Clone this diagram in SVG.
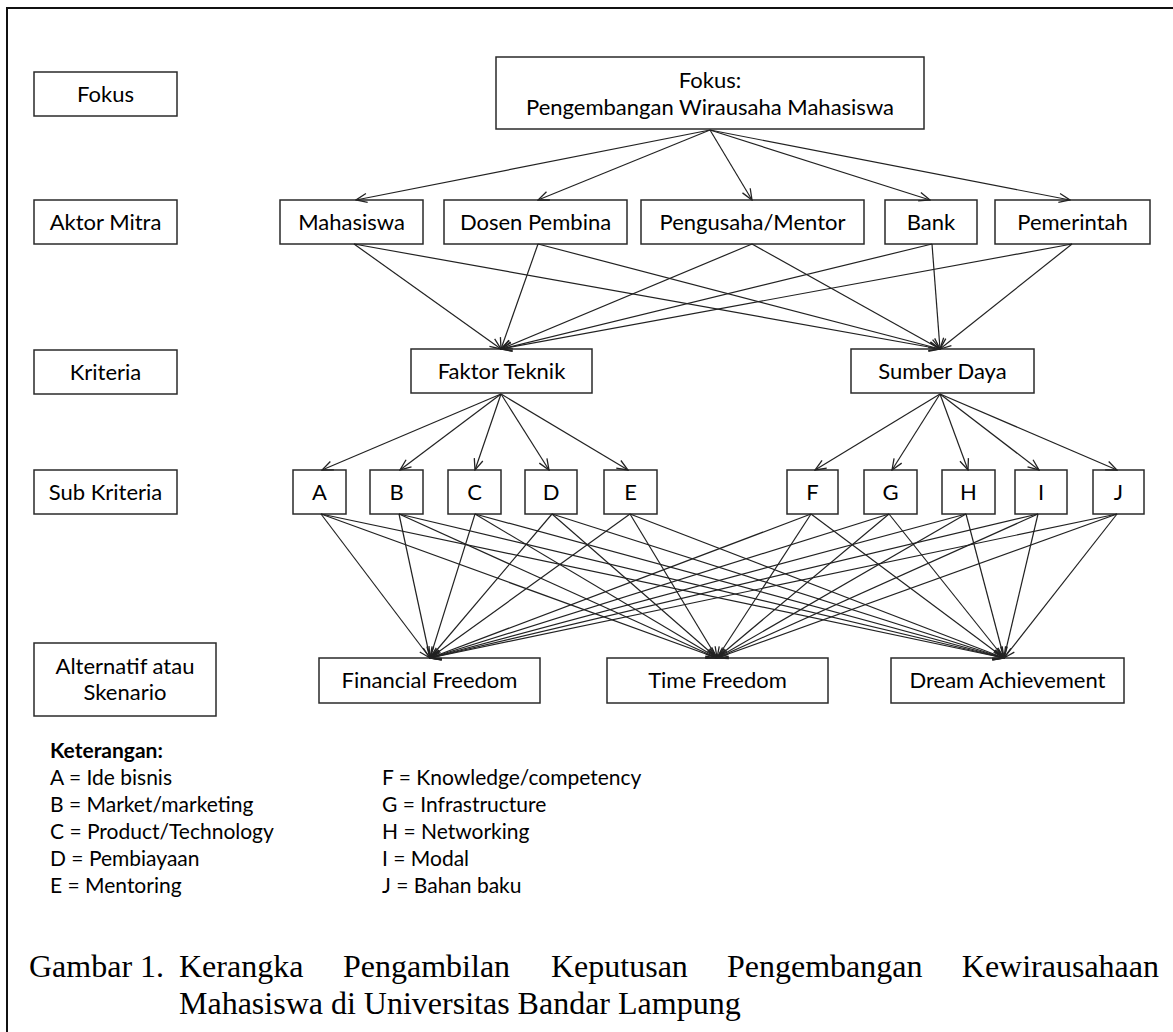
<svg xmlns="http://www.w3.org/2000/svg" width="1173" height="1032" viewBox="0 0 1173 1032">
<style>
.bx{fill:#fff;stroke:#2a2a2a;stroke-width:1.5}
.t{font-family:Lato,"Open Sans",sans-serif;font-size:22px;fill:#000;text-anchor:middle}
.lg{font-family:Lato,"Open Sans",sans-serif;font-size:21px;fill:#000}
.cap{font-family:"Liberation Serif","Times New Roman",serif;font-size:32px;fill:#000}
.c line{stroke:#222;stroke-width:1.2;marker-end:url(#ah)}
</style>
<defs>
<marker id="ah" viewBox="-12 -6 13 12" refX="0" refY="0" markerWidth="13" markerHeight="12" markerUnits="userSpaceOnUse" orient="auto">
<path d="M-11,-4.5 L0,0 L-11,4.5" fill="none" stroke="#222" stroke-width="1.3"/>
</marker>
</defs>
<rect x="0" y="0" width="1173" height="1032" fill="#fff"/>
<path d="M7,1032 V8 H1173" fill="none" stroke="#111" stroke-width="2"/>

<g id="lbl-fokus"><rect class="bx" x="34" y="72" width="143" height="44"/><text class="t" x="105.5" y="101.5">Fokus</text></g>
<g id="lbl-aktor"><rect class="bx" x="34" y="200" width="143" height="44"/><text class="t" x="105.5" y="229.5">Aktor Mitra</text></g>
<g id="lbl-kriteria"><rect class="bx" x="34" y="350" width="143" height="44"/><text class="t" x="105.5" y="379.5">Kriteria</text></g>
<g id="lbl-sub"><rect class="bx" x="34" y="470" width="143" height="44"/><text class="t" x="105.5" y="499.5">Sub Kriteria</text></g>
<g id="lbl-alt"><rect class="bx" x="34" y="643" width="182" height="73"/><text class="t" x="125" y="674">Alternatif atau</text><text class="t" x="125" y="700">Skenario</text></g>

<g id="focus"><rect class="bx" x="496" y="57" width="428" height="72"/><text class="t" x="710" y="88">Fokus:</text><text class="t" x="710" y="115">Pengembangan Wirausaha Mahasiswa</text></g>

<g id="a-mahasiswa"><rect class="bx" x="280" y="200" width="143" height="44"/><text class="t" x="351.5" y="229.5">Mahasiswa</text></g>
<g id="a-dosen"><rect class="bx" x="444" y="200" width="183" height="44"/><text class="t" x="535.5" y="229.5">Dosen Pembina</text></g>
<g id="a-pengusaha"><rect class="bx" x="641" y="200" width="223" height="44"/><text class="t" x="752.5" y="229.5">Pengusaha/Mentor</text></g>
<g id="a-bank"><rect class="bx" x="885" y="200" width="92" height="44"/><text class="t" x="931" y="229.5">Bank</text></g>
<g id="a-pemerintah"><rect class="bx" x="995" y="200" width="155" height="44"/><text class="t" x="1072.5" y="229.5">Pemerintah</text></g>

<g id="k-teknik"><rect class="bx" x="411" y="349" width="181" height="44"/><text class="t" x="501.5" y="378.5">Faktor Teknik</text></g>
<g id="k-sumber"><rect class="bx" x="851" y="349" width="183" height="44"/><text class="t" x="942.5" y="378.5">Sumber Daya</text></g>

<g id="s-a"><rect class="bx" x="293" y="470" width="53" height="44"/><text class="t" x="319.5" y="499.5">A</text></g>
<g id="s-b"><rect class="bx" x="370" y="470" width="53" height="44"/><text class="t" x="396.5" y="499.5">B</text></g>
<g id="s-c"><rect class="bx" x="448" y="470" width="53" height="44"/><text class="t" x="474.5" y="499.5">C</text></g>
<g id="s-d"><rect class="bx" x="525" y="470" width="52" height="44"/><text class="t" x="551" y="499.5">D</text></g>
<g id="s-e"><rect class="bx" x="604" y="470" width="53" height="44"/><text class="t" x="630.5" y="499.5">E</text></g>
<g id="s-f"><rect class="bx" x="787" y="470" width="51" height="44"/><text class="t" x="812.5" y="499.5">F</text></g>
<g id="s-g"><rect class="bx" x="864" y="470" width="53" height="44"/><text class="t" x="890.5" y="499.5">G</text></g>
<g id="s-h"><rect class="bx" x="942" y="470" width="53" height="44"/><text class="t" x="968.5" y="499.5">H</text></g>
<g id="s-i"><rect class="bx" x="1015" y="470" width="52" height="44"/><text class="t" x="1041" y="499.5">I</text></g>
<g id="s-j"><rect class="bx" x="1093" y="470" width="51" height="44"/><text class="t" x="1118.5" y="499.5">J</text></g>

<g id="alt-ff"><rect class="bx" x="319" y="658" width="221" height="45"/><text class="t" x="429.5" y="688">Financial Freedom</text></g>
<g id="alt-tf"><rect class="bx" x="607" y="658" width="221" height="45"/><text class="t" x="717.5" y="688">Time Freedom</text></g>
<g id="alt-da"><rect class="bx" x="891" y="658" width="233" height="45"/><text class="t" x="1007.5" y="688">Dream Achievement</text></g>

<g class="c" id="connectors">
<line x1="710" y1="130" x2="356" y2="200"/>
<line x1="710" y1="130" x2="538" y2="200"/>
<line x1="710" y1="130" x2="752" y2="200"/>
<line x1="710" y1="130" x2="930" y2="200"/>
<line x1="710" y1="130" x2="1070" y2="200"/>

<line x1="354" y1="244" x2="501" y2="349"/>
<line x1="354" y1="244" x2="940" y2="349"/>
<line x1="538" y1="244" x2="501" y2="349"/>
<line x1="538" y1="244" x2="940" y2="349"/>
<line x1="752" y1="244" x2="501" y2="349"/>
<line x1="752" y1="244" x2="940" y2="349"/>
<line x1="932" y1="244" x2="501" y2="349"/>
<line x1="932" y1="244" x2="940" y2="349"/>
<line x1="1072" y1="244" x2="501" y2="349"/>
<line x1="1072" y1="244" x2="940" y2="349"/>

<line x1="501" y1="394" x2="322" y2="470"/>
<line x1="501" y1="394" x2="400" y2="470"/>
<line x1="501" y1="394" x2="475" y2="470"/>
<line x1="501" y1="394" x2="549" y2="470"/>
<line x1="501" y1="394" x2="628" y2="470"/>
<line x1="940" y1="394" x2="815" y2="470"/>
<line x1="940" y1="394" x2="892" y2="470"/>
<line x1="940" y1="394" x2="968" y2="470"/>
<line x1="940" y1="394" x2="1039" y2="470"/>
<line x1="940" y1="394" x2="1117" y2="470"/>

<line x1="321" y1="514" x2="430" y2="658"/><line x1="321" y1="514" x2="717" y2="658"/><line x1="321" y1="514" x2="1004" y2="658"/>
<line x1="399" y1="514" x2="430" y2="658"/><line x1="399" y1="514" x2="717" y2="658"/><line x1="399" y1="514" x2="1004" y2="658"/>
<line x1="475" y1="514" x2="430" y2="658"/><line x1="475" y1="514" x2="717" y2="658"/><line x1="475" y1="514" x2="1004" y2="658"/>
<line x1="552" y1="514" x2="430" y2="658"/><line x1="552" y1="514" x2="717" y2="658"/><line x1="552" y1="514" x2="1004" y2="658"/>
<line x1="630" y1="514" x2="430" y2="658"/><line x1="630" y1="514" x2="717" y2="658"/><line x1="630" y1="514" x2="1004" y2="658"/>
<line x1="811" y1="514" x2="430" y2="658"/><line x1="811" y1="514" x2="717" y2="658"/><line x1="811" y1="514" x2="1004" y2="658"/>
<line x1="889" y1="514" x2="430" y2="658"/><line x1="889" y1="514" x2="717" y2="658"/><line x1="889" y1="514" x2="1004" y2="658"/>
<line x1="966" y1="514" x2="430" y2="658"/><line x1="966" y1="514" x2="717" y2="658"/><line x1="966" y1="514" x2="1004" y2="658"/>
<line x1="1038" y1="514" x2="430" y2="658"/><line x1="1038" y1="514" x2="717" y2="658"/><line x1="1038" y1="514" x2="1004" y2="658"/>
<line x1="1117" y1="514" x2="430" y2="658"/><line x1="1117" y1="514" x2="717" y2="658"/><line x1="1117" y1="514" x2="1004" y2="658"/>
</g>

<g id="legend">
<text class="lg" x="50" y="758" font-weight="bold">Keterangan:</text>
<text class="lg" x="50" y="785">A = Ide bisnis</text>
<text class="lg" x="50" y="812">B = Market/marketing</text>
<text class="lg" x="50" y="839">C = Product/Technology</text>
<text class="lg" x="50" y="866">D = Pembiayaan</text>
<text class="lg" x="50" y="893">E = Mentoring</text>
<text class="lg" x="382" y="785">F = Knowledge/competency</text>
<text class="lg" x="382" y="812">G = Infrastructure</text>
<text class="lg" x="382" y="839">H = Networking</text>
<text class="lg" x="382" y="866">I = Modal</text>
<text class="lg" x="382" y="893">J = Bahan baku</text>
</g>

<g id="caption">
<text class="cap" y="977"><tspan x="29">Gambar 1.</tspan><tspan x="179">Kerangka</tspan><tspan x="343">Pengambilan</tspan><tspan x="551">Keputusan</tspan><tspan x="727">Pengembangan</tspan><tspan x="1159" text-anchor="end">Kewirausahaan</tspan></text>
<text class="cap" x="179" y="1014">Mahasiswa di Universitas Bandar Lampung</text>
</g>
</svg>
